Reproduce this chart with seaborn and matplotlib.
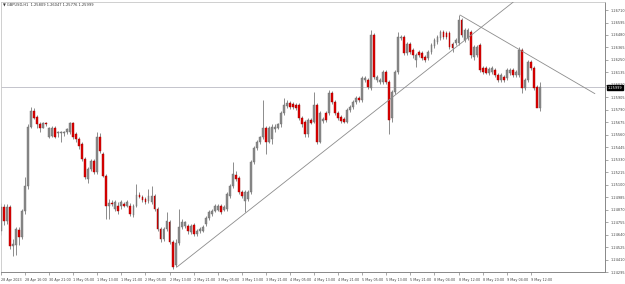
import matplotlib
matplotlib.use("Agg")
import matplotlib.pyplot as plt
import matplotlib.transforms as mtransforms
import seaborn as sns
import numpy as np

# ---------------- data (GBPUSD, H1) ----------------
opens = [1.24672,1.24893,1.24764,1.24893,1.24535,1.24544,1.24681,1.24617,1.24856,1.25085,
         1.25636,1.25783,1.25728,1.25655,1.25627,1.25673,1.25544,1.25553,1.25627,1.25572,
         1.25572,1.25572,1.25581,1.25581,1.25673,1.25563,1.25517,1.25471,1.25333,1.25150,
         1.25241,1.25315,1.25214,1.25544,1.25379,1.25177,1.24902,1.24929,1.24874,1.24902,
         1.24902,1.24920,1.24902,1.24902,1.24819,1.24902,1.25003,1.24984,1.24966,1.24948,
         1.24938,1.24994,1.24874,1.24691,1.24599,1.24691,1.24755,1.24571,1.24360,1.24562,
         1.24709,1.24718,1.24718,1.24663,1.24727,1.24645,1.24672,1.24672,1.24737,1.24792,
         1.24828,1.24856,1.24865,1.24902,1.24865,1.24874,1.24994,1.25085,1.25186,1.25159,
         1.25030,1.24948,1.24966,1.25030,1.25306,1.25434,1.25489,1.25535,1.25627,1.25498,
         1.25517,1.25609,1.25627,1.25655,1.25765,1.25829,1.25856,1.25847,1.25838,1.25838,
         1.25719,1.25682,1.25563,1.25700,1.25682,1.25838,1.25498,1.25691,1.25765,1.25765,
         1.25948,1.25866,1.25765,1.25728,1.25710,1.25682,1.25792,1.25820,1.25866,1.25902,
         1.25884,1.26068,1.26068,1.25994,1.26481,1.26068,1.26049,1.26049,1.26141,1.26049,
         1.25719,1.25957,1.26141,1.26453,1.26462,1.26315,1.26398,1.26343,1.26251,1.26325,
         1.26315,1.26279,1.26270,1.26325,1.26380,1.26416,1.26453,1.26508,1.26499,1.26499,
         1.26398,1.26407,1.26407,1.26618,1.26435,1.26453,1.26508,1.26279,1.26297,1.26389,
         1.26178,1.26178,1.26132,1.26141,1.26159,1.26114,1.26068,1.26095,1.26086,1.26132,
         1.26159,1.26114,1.26114,1.26343,1.25994,1.26068,1.26233,1.26178,1.26003,1.25809]
highs = [1.24929,1.24920,1.24920,1.24911,1.24599,1.24709,1.24709,1.24874,1.25168,1.25655,
         1.25820,1.25811,1.25746,1.25682,1.25682,1.25682,1.25636,1.25645,1.25645,1.25599,
         1.25599,1.25599,1.25627,1.25682,1.25682,1.25581,1.25535,1.25489,1.25352,1.25260,
         1.25333,1.25333,1.25581,1.25572,1.25398,1.25196,1.24966,1.24957,1.24957,1.24938,
         1.24957,1.24938,1.24957,1.24929,1.24920,1.25104,1.25030,1.25003,1.24984,1.25058,
         1.25085,1.25012,1.24893,1.24709,1.24709,1.24847,1.24773,1.24590,1.24599,1.24874,
         1.24782,1.24764,1.24737,1.24737,1.24746,1.24691,1.24709,1.24727,1.24810,1.24865,
         1.24874,1.24920,1.24920,1.24920,1.24911,1.25030,1.25104,1.25306,1.25223,1.25177,
         1.25049,1.25049,1.25049,1.25324,1.25453,1.25508,1.25553,1.25884,1.25645,1.25645,
         1.25655,1.25655,1.25673,1.25783,1.25902,1.25884,1.25875,1.25866,1.25856,1.25856,
         1.25737,1.25700,1.25719,1.25719,1.25957,1.25856,1.25783,1.25728,1.25783,1.25976,
         1.25967,1.25884,1.25783,1.25746,1.25728,1.25811,1.25838,1.25884,1.25921,1.25921,
         1.26104,1.26104,1.26086,1.26527,1.26499,1.26114,1.26086,1.26159,1.26159,1.26068,
         1.25976,1.26159,1.26508,1.26481,1.26481,1.26416,1.26416,1.26361,1.26315,1.26343,
         1.26334,1.26297,1.26343,1.26407,1.26453,1.26481,1.26527,1.26527,1.26517,1.26517,
         1.26416,1.26453,1.26664,1.26637,1.26545,1.26545,1.26527,1.26389,1.26389,1.26407,
         1.26196,1.26196,1.26187,1.26196,1.26178,1.26132,1.26132,1.26114,1.26178,1.26178,
         1.26178,1.26159,1.26371,1.26361,1.26086,1.26251,1.26251,1.26196,1.26022,1.26047]
lows = [1.24636,1.24727,1.24737,1.24507,1.24443,1.24452,1.24544,1.24599,1.24828,1.25058,
        1.25627,1.25710,1.25627,1.25590,1.25618,1.25645,1.25526,1.25535,1.25526,1.25544,
        1.25489,1.25553,1.25563,1.25563,1.25517,1.25498,1.25425,1.25315,1.25150,1.25113,
        1.25223,1.25196,1.25196,1.25388,1.25168,1.24782,1.24782,1.24902,1.24856,1.24828,
        1.24874,1.24893,1.24893,1.24810,1.24801,1.24893,1.24975,1.24938,1.24920,1.24929,
        1.24920,1.24856,1.24672,1.24571,1.24580,1.24672,1.24553,1.24323,1.24342,1.24544,
        1.24691,1.24700,1.24645,1.24645,1.24626,1.24626,1.24654,1.24663,1.24718,1.24773,
        1.24810,1.24847,1.24856,1.24828,1.24856,1.24856,1.24975,1.25067,1.25131,1.25012,
        1.24975,1.24847,1.24948,1.25012,1.25287,1.25416,1.25471,1.25517,1.25379,1.25480,
        1.25471,1.25590,1.25609,1.25636,1.25746,1.25811,1.25801,1.25801,1.25792,1.25700,
        1.25636,1.25535,1.25544,1.25655,1.25664,1.25471,1.25480,1.25673,1.25682,1.25746,
        1.25847,1.25746,1.25700,1.25673,1.25664,1.25664,1.25774,1.25801,1.25847,1.25866,
        1.25866,1.26049,1.25985,1.25976,1.26077,1.26049,1.26031,1.26031,1.26031,1.25563,
        1.25682,1.25939,1.26123,1.26435,1.26297,1.26297,1.26306,1.26270,1.26187,1.26279,
        1.26251,1.26233,1.26251,1.26306,1.26361,1.26398,1.26435,1.26444,1.26444,1.26352,
        1.26325,1.26389,1.26389,1.26462,1.26416,1.26435,1.26270,1.26251,1.26279,1.26141,
        1.26123,1.26123,1.26114,1.26123,1.26095,1.26049,1.26049,1.26049,1.26068,1.26114,
        1.26095,1.26095,1.26095,1.25948,1.25976,1.26049,1.26159,1.25976,1.25820,1.25776]
closes = [1.24893,1.24764,1.24893,1.24535,1.24553,1.24691,1.24617,1.24856,1.25085,1.25636,
          1.25783,1.25719,1.25655,1.25627,1.25664,1.25655,1.25627,1.25627,1.25544,1.25581,
          1.25581,1.25590,1.25609,1.25673,1.25535,1.25517,1.25453,1.25333,1.25168,1.25241,
          1.25315,1.25214,1.25544,1.25407,1.25177,1.24902,1.24929,1.24920,1.24938,1.24856,
          1.24938,1.24902,1.24938,1.24828,1.24902,1.25003,1.24984,1.24957,1.24938,1.24994,
          1.24994,1.24874,1.24691,1.24599,1.24691,1.24764,1.24571,1.24342,1.24562,1.24709,
          1.24755,1.24755,1.24672,1.24718,1.24645,1.24672,1.24691,1.24709,1.24792,1.24847,
          1.24856,1.24902,1.24902,1.24847,1.24893,1.25012,1.25085,1.25196,1.25150,1.25030,
          1.24994,1.25030,1.25030,1.25306,1.25434,1.25489,1.25535,1.25627,1.25498,1.25627,
          1.25636,1.25636,1.25655,1.25765,1.25838,1.25856,1.25820,1.25820,1.25811,1.25719,
          1.25655,1.25563,1.25700,1.25673,1.25838,1.25498,1.25765,1.25710,1.25700,1.25948,
          1.25866,1.25765,1.25719,1.25691,1.25682,1.25792,1.25820,1.25866,1.25902,1.25884,
          1.26086,1.26086,1.26003,1.26481,1.26095,1.26095,1.26068,1.26141,1.26049,1.25700,
          1.25957,1.26141,1.26462,1.26462,1.26315,1.26398,1.26325,1.26297,1.26297,1.26297,
          1.26270,1.26251,1.26325,1.26389,1.26435,1.26462,1.26508,1.26462,1.26462,1.26371,
          1.26361,1.26435,1.26618,1.26481,1.26527,1.26527,1.26297,1.26371,1.26371,1.26159,
          1.26141,1.26132,1.26169,1.26178,1.26114,1.26068,1.26114,1.26068,1.26159,1.26159,
          1.26114,1.26141,1.26343,1.25994,1.26068,1.26233,1.26178,1.25994,1.25809,1.25999]

time_labels = ["28 Apr 2023", "28 Apr 16:00", "30 Apr 21:00", "1 May 05:00", "1 May 13:00",
               "1 May 21:00", "2 May 05:00", "2 May 13:00", "2 May 21:00", "3 May 05:00",
               "3 May 13:00", "3 May 21:00", "4 May 05:00", "4 May 13:00", "4 May 21:00",
               "5 May 05:00", "5 May 13:00", "5 May 21:00", "8 May 04:00", "8 May 12:00",
               "8 May 20:00", "9 May 04:00", "9 May 12:00"]
label_bars = [0, 8, 16, 24, 32, 40, 48, 56, 64, 72, 80, 88, 96, 104, 112, 120,
              128, 136, 144, 152, 160, 168, 176]
price_ticks = [1.26710, 1.26595, 1.26480, 1.26365, 1.26250, 1.26135, 1.26020, 1.25905,
               1.25790, 1.25675, 1.25560, 1.25445, 1.25330, 1.25215, 1.25100, 1.24985,
               1.24870, 1.24755, 1.24640, 1.24525, 1.24410, 1.24295]

last_price = 1.25999
trend_up_x = [58.5, 170.2]
trend_up_y = [1.24342, 1.26784]
trend_down_x = [152.5, 197.3]
trend_down_y = [1.26664, 1.25939]
title = "GBPUSD,H1  1.25809 1.26047 1.25776 1.25999"

# ---------------- plot ----------------
sns.set_theme(style="white")
plt.rcParams['font.family'] = ['DejaVu Sans']

fig = plt.figure(figsize=(6.25, 2.84), dpi=100)
ax = fig.add_axes([1/625, 12/284, 604/625, 270/284])

idx = np.arange(len(closes))
o = np.array(opens); c = np.array(closes)
h = np.array(highs); l = np.array(lows)
up = c >= o

up_col = "#8a8a8a"
dn_face = "#e00000"
dn_edge = "#9a0000"
wick_col = "#7a7a7a"

ax.vlines(idx, l, h, color=wick_col, linewidth=0.6, zorder=2)
ax.bar(idx[up], (c - o)[up], bottom=o[up], width=0.62, color=up_col,
       edgecolor="#6f6f6f", linewidth=0.3, zorder=3)
ax.bar(idx[~up], (o - c)[~up], bottom=c[~up], width=0.62, color=dn_face,
       edgecolor=dn_edge, linewidth=0.3, zorder=3)

ax.axhline(last_price, color="#c4c4cc", linewidth=0.7, zorder=1)
ax.plot(trend_up_x, trend_up_y, color="#8c8c8c", linewidth=0.6, zorder=4)
ax.plot(trend_down_x, trend_down_y, color="#8c8c8c", linewidth=0.6, zorder=4)

ax.set_xlim(0, 200.66)
ax.set_ylim(1.24305, 1.26784)

ax.yaxis.tick_right()
ax.set_yticks(price_ticks)
ax.set_yticklabels([f"{p:.5f}" for p in price_ticks], fontsize=2.5, color="#444444")
ax.set_xticks(label_bars)
ax.set_xticklabels(time_labels, fontsize=2.4, color="#444444", ha="left")
ax.tick_params(axis="y", which="both", right=True, left=False, length=2, width=0.4,
               pad=1.8, colors="#666666", labelcolor="#444444")
ax.tick_params(axis="x", which="both", bottom=True, length=2, width=0.4, pad=2.0,
               colors="#666666", labelcolor="#444444")

for sp in ["left", "top"]:
    ax.spines[sp].set_color("#c8c8c8")
    ax.spines[sp].set_linewidth(0.6)
for sp in ["right", "bottom"]:
    ax.spines[sp].set_color("#888888")
    ax.spines[sp].set_linewidth(0.7)

trans = mtransforms.blended_transform_factory(ax.transAxes, ax.transData)
ax.text(1.004, last_price - 0.00004, f"{last_price:.5f}", transform=trans, fontsize=2.5,
        color="white", va="center", ha="left", zorder=10,
        bbox=dict(boxstyle="square,pad=0.2", facecolor="black", edgecolor="black"))

fig.text(3/625, 1 - 5/284, "\u25BC " + title, fontsize=2.6, color="#333333",
         va="center", ha="left")

fig.savefig("out.png", dpi=100, facecolor="white")
